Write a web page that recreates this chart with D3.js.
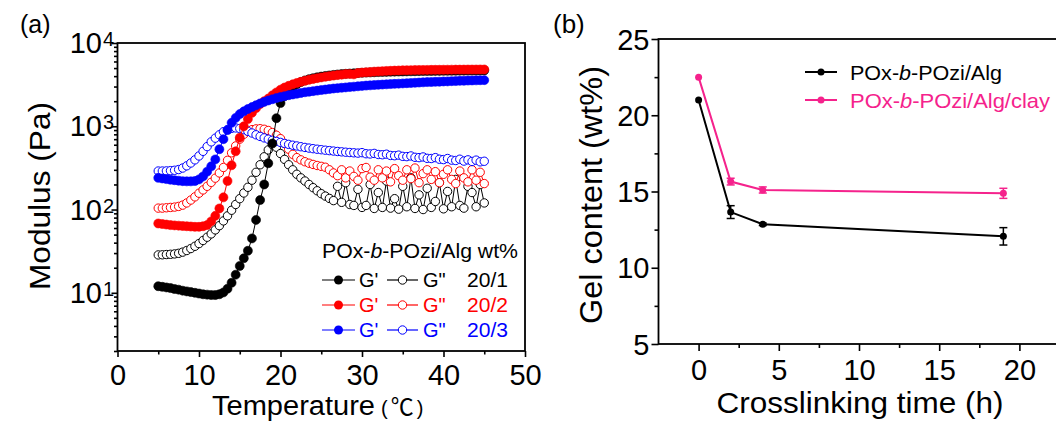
<!DOCTYPE html>
<html><head><meta charset="utf-8">
<script src="https://cdn.jsdelivr.net/npm/d3@7"></script>
<style>
body{margin:0;background:#fff}
svg{display:block}
text{font-family:"Liberation Sans",Arial,Helvetica,sans-serif;fill:#000}
</style>
</head><body>
<svg id="c" width="1056" height="427"></svg>
<script>
// ---------- Panel (a) data ----------
const temps = [5,5.5,6,6.5,7,7.5,8,8.5,9,9.5,10,10.5,11,11.5,12,12.5,13,13.5,14,14.5,15,15.5,16,16.5,17,17.5,18,18.5,19,19.5,20,20.5,21,21.5,22,22.5,23,23.5,24,24.5,25,25.5,26,26.5,27,27.5,28,28.5,29,29.5,30,30.5,31,31.5,32,32.5,33,33.5,34,34.5,35,35.5,36,36.5,37,37.5,38,38.5,39,39.5,40,40.5,41,41.5,42,42.5,43,43.5,44,44.5,45];

const gp201 = [12.0,11.8,11.6,11.4,11.1,10.9,10.6,10.4,10.2,10.0,
 9.8,9.6,9.5,9.4,9.4,9.6,10.1,11.2,13.2,16.5,
 21,26,32,45,75,130,200,360,620,1250,
 1900,2300,2650,2950,3200,3400,3550,3680,3780,3870,
 3950,4020,4080,4140,4190,4230,4270,4300,4330,4360,
 4390,4410,4430,4450,4470,4490,4500,4520,4530,4540,
 4550,4560,4570,4580,4590,4600,4605,4610,4620,4625,
 4630,4635,4640,4645,4650,4655,4660,4665,4670,4675,
 4680];
const gpp201 = [28.5,28.6,28.8,29,29.3,29.8,30.8,32.2,34,36.2,
 39,42.5,46.5,51,57,64,73,84,98,115,
 135,158,185,225,280,345,430,520,600,560,
 470,400,345,300,265,240,220,200,183,168,
 155,145,136,128,190,122,210,115,112,175,
 106,112,200,103,160,106,220,104,135,101,
 190,108,240,103,150,100,180,106,125,210,
 102,165,108,230,112,104,190,160,108,200,
 120];
const gp202 = [68,67,66,65,64.5,64,63.5,63,62.5,62,
 62,63,65,72,84,103,140,220,340,500,
 730,1000,1220,1450,1650,1850,2000,2150,2350,2550,
 2750,2920,3060,3190,3310,3420,3520,3610,3700,3780,
 3860,3930,4000,4060,4120,4170,4230,4250,4200,4360,
 4410,4450,4490,4530,4560,4590,4620,4640,4660,4680,
 4700,4710,4720,4730,4740,4750,4755,4760,4765,4770,
 4775,4780,4785,4790,4790,4795,4800,4800,4805,4810,
 4810];
const gpp202 = [104,104,105,106,107,109,113,120,130,142,
 157,172,190,212,238,275,320,390,480,580,
 700,800,870,910,930,935,920,890,840,780,
 710,620,530,460,420,395,375,360,348,338,
 330,322,300,275,255,300,240,290,250,225,
 310,320,245,225,300,240,290,215,310,255,
 225,300,235,315,210,270,300,230,285,210,
 265,300,230,205,290,240,215,300,225,280,
 205];
const gp203 = [240,236,232,228,225,222,219,218,218,220,
 230,250,285,330,400,530,700,900,1100,1260,
 1400,1510,1610,1700,1790,1880,1960,2040,2110,2180,
 2240,2300,2360,2410,2460,2510,2560,2600,2640,2680,
 2720,2760,2800,2840,2870,2900,2930,2960,2990,3020,
 3050,3080,3100,3130,3150,3170,3190,3210,3230,3250,
 3270,3290,3310,3330,3350,3370,3390,3400,3420,3430,
 3450,3460,3480,3490,3510,3520,3540,3550,3560,3570,
 3580];
const gpp203 = [290,290,291,293,296,302,315,335,362,395,
 440,500,570,650,720,790,860,910,945,955,
 940,910,870,830,790,755,725,700,678,658,
 640,622,606,592,580,568,557,547,538,530,
 523,516,510,504,498,493,488,484,480,476,
 482,468,465,472,458,455,462,446,443,450,
 435,432,440,424,420,428,412,410,420,402,
 398,410,392,388,402,382,395,378,392,374,
 380];

const ratioLabels = ["20/1","20/2","20/3"];
const aXMajor = [0,10,20,30,40,50];
const aXMinor = [5,15,25,35,45];
const aYMajor = [10,100,1000,10000];
const aYExp = ["1","2","3","4"];
const aYMinor = [2,3,4,5,6,7,8,9,20,30,40,50,60,70,80,90,200,300,400,500,600,700,800,900,2000,3000,4000,5000,6000,7000,8000,9000];

// ---------- Panel (b) data ----------
const timeB = [0,2,4,19];
const gelAlg = [21.0,13.65,12.85,12.06];
const errAlg = [0,0.42,0.08,0.57];
const gelClay = [22.5,15.65,15.1,14.88];
const errClay = [0,0.22,0.2,0.33];
const bXMajor = [0,5,10,15,20];
const bXMinor = [2.5,7.5,12.5,17.5,22.5];
const bYMajor = [5,10,15,20,25];
const bYMinor = [7.5,12.5,17.5,22.5];

// ---------- drawing ----------
const svg = d3.select("#c");
const FONT = '"Liberation Sans",Arial,Helvetica,sans-serif';
const colA = ["#000000","#ff0000","#0000ff"];
const pink = "#f5228c";

// Panel (a)
const xA = d3.scaleLinear().domain([0,50]).range([117.5,525]);
const yA = d3.scaleLog().domain([2,10000]).range([351,43]);

function styleAxis(g){
  g.select(".domain").remove();
  g.selectAll(".tick line").attr("stroke","#000").attr("stroke-width",1.6);
}

const axBa = svg.append("g").attr("transform","translate(0,351)")
  .call(d3.axisBottom(xA).tickValues(aXMajor).tickSize(6).tickSizeOuter(0).tickFormat(d=>String(d)));
styleAxis(axBa);
axBa.selectAll("text").attr("dy",null).attr("y",34).attr("font-size",29).attr("font-family",FONT).attr("fill","#000");
const axBaM = svg.append("g").attr("transform","translate(0,351)")
  .call(d3.axisBottom(xA).tickValues(aXMinor).tickSize(3.5).tickSizeOuter(0).tickFormat(""));
styleAxis(axBaM);

const axLa = svg.append("g").attr("transform","translate(117.5,0)")
  .call(d3.axisLeft(yA).tickValues(aYMajor).tickSize(6).tickSizeOuter(0).tickFormat(""));
styleAxis(axLa);
const axLaM = svg.append("g").attr("transform","translate(117.5,0)")
  .call(d3.axisLeft(yA).tickValues(aYMinor).tickSize(3.5).tickSizeOuter(0).tickFormat(""));
styleAxis(axLaM);

aYMajor.forEach((v,i)=>{
  const yy = yA(v);
  svg.append("text").attr("x",102).attr("y",yy+10).attr("text-anchor","end")
    .attr("font-size",29).text("10");
  svg.append("text").attr("x",103).attr("y",yy+3).attr("font-size",20).text(aYExp[i]);
});

svg.append("rect").attr("x",117.5).attr("y",43).attr("width",525-117.5).attr("height",351-43)
  .attr("fill","none").attr("stroke","#000").attr("stroke-width",1.8);

// series
const seriesA = [
  {vals:gpp201, c:colA[0], filled:false},
  {vals:gpp202, c:colA[1], filled:false},
  {vals:gpp203, c:colA[2], filled:false},
  {vals:gp201, c:colA[0], filled:true},
  {vals:gp202, c:colA[1], filled:true},
  {vals:gp203, c:colA[2], filled:true}
];
const lineA = d3.line().x(d=>xA(d.t)).y(d=>yA(d.v));
const gData = svg.append("g");
seriesA.forEach(s=>{
  const pts = temps.map((t,i)=>({t:t, v:s.vals[i]})).filter(d=>d.v!==undefined);
  const g = gData.append("g");
  g.append("path").datum(pts).attr("d",lineA).attr("fill","none").attr("stroke",s.c).attr("stroke-width",1);
  g.selectAll("circle").data(pts).join("circle")
    .attr("cx",d=>xA(d.t)).attr("cy",d=>yA(d.v))
    .attr("r", s.filled?4.5:4.2)
    .attr("fill", s.filled? s.c : "#fff")
    .attr("stroke", s.c).attr("stroke-width", s.filled?0.6:1);
});

// axis titles (a)
svg.append("text").attr("transform","translate(50,196) rotate(-90)").attr("text-anchor","middle")
  .attr("font-size",29).attr("textLength",188).attr("lengthAdjust","spacingAndGlyphs").text("Modulus (Pa)");
svg.append("text").attr("x",212).attr("y",415).attr("font-size",27)
  .attr("textLength",163).attr("lengthAdjust","spacingAndGlyphs").text("Temperature");
const tu = svg.append("text").attr("x",381).attr("y",415).attr("font-size",20);
tu.append("tspan").text("(");
tu.append("tspan").attr("dx",3).attr("font-family",'"Noto Sans CJK SC","Noto Sans",sans-serif').attr("font-size",23).text("℃");
tu.append("tspan").attr("dx",3).text(")");

svg.append("text").attr("x",20).attr("y",33).attr("font-size",25).text("(a)");

// legend (a)
const lt = svg.append("text").attr("x",322).attr("y",258).attr("font-size",20)
  .attr("textLength",196).attr("lengthAdjust","spacingAndGlyphs");
lt.append("tspan").text("POx-");
lt.append("tspan").attr("font-style","italic").text("b");
lt.append("tspan").text("-POzi/Alg wt%");
const rowY = [280,305,330];
ratioLabels.forEach((lab,i)=>{
  const y = rowY[i], c = colA[i];
  const g = svg.append("g");
  g.append("line").attr("x1",322).attr("x2",355).attr("y1",y).attr("y2",y).attr("stroke",c).attr("stroke-width",1.2);
  g.append("circle").attr("cx",338.5).attr("cy",y).attr("r",4.5).attr("fill",c);
  g.append("text").attr("x",359).attr("y",y+7).attr("font-size",20).style("fill",c).text("G'");
  g.append("line").attr("x1",387).attr("x2",418).attr("y1",y).attr("y2",y).attr("stroke",c).attr("stroke-width",1.2);
  g.append("circle").attr("cx",402.5).attr("cy",y).attr("r",4.2).attr("fill","#fff").attr("stroke",c).attr("stroke-width",1);
  g.append("text").attr("x",423).attr("y",y+7).attr("font-size",20).style("fill",c).text('G"');
  g.append("text").attr("x",467).attr("y",y+7).attr("font-size",20).style("fill",c)
    .attr("textLength",41).attr("lengthAdjust","spacingAndGlyphs").text(lab);
});

// Panel (b)
const xB = d3.scaleLinear().domain([-2.5,22.5]).range([658.5,1059.5]);
const yB = d3.scaleLinear().domain([5,25]).range([344,39]);

const axBb = svg.append("g").attr("transform","translate(0,344)")
  .call(d3.axisBottom(xB).tickValues(bXMajor).tickSize(7).tickSizeOuter(0).tickFormat(d=>String(d)));
styleAxis(axBb);
axBb.selectAll("text").attr("dy",null).attr("y",36).attr("font-size",29).attr("font-family",FONT).attr("fill","#000");
const axBbM = svg.append("g").attr("transform","translate(0,344)")
  .call(d3.axisBottom(xB).tickValues(bXMinor).tickSize(4).tickSizeOuter(0).tickFormat(""));
styleAxis(axBbM);
const axLb = svg.append("g").attr("transform","translate(658.5,0)")
  .call(d3.axisLeft(yB).tickValues(bYMajor).tickSize(7).tickSizeOuter(0).tickFormat(d=>String(d)));
styleAxis(axLb);
axLb.selectAll("text").attr("dy",null).attr("y",10).attr("x",-9).attr("font-size",29).attr("font-family",FONT).attr("fill","#000");
const axLbM = svg.append("g").attr("transform","translate(658.5,0)")
  .call(d3.axisLeft(yB).tickValues(bYMinor).tickSize(4).tickSizeOuter(0).tickFormat(""));
styleAxis(axLbM);

svg.append("rect").attr("x",658.5).attr("y",39).attr("width",1059.5-658.5).attr("height",344-39)
  .attr("fill","none").attr("stroke","#000").attr("stroke-width",1.8);

const seriesB = [
  {vals:gelAlg, err:errAlg, c:"#000"},
  {vals:gelClay, err:errClay, c:pink}
];
const lineB = d3.line().x(d=>xB(d.t)).y(d=>yB(d.v));
seriesB.forEach(s=>{
  const pts = timeB.map((t,i)=>({t:t, v:s.vals[i], e:s.err[i]}));
  const g = svg.append("g");
  g.append("path").datum(pts).attr("d",lineB).attr("fill","none").attr("stroke",s.c).attr("stroke-width",2);
  pts.filter(d=>d.e>0).forEach(d=>{
    const x = xB(d.t), y1 = yB(d.v+d.e), y2 = yB(d.v-d.e);
    g.append("line").attr("x1",x).attr("x2",x).attr("y1",y1).attr("y2",y2).attr("stroke",s.c).attr("stroke-width",1.5);
    g.append("line").attr("x1",x-4).attr("x2",x+4).attr("y1",y1).attr("y2",y1).attr("stroke",s.c).attr("stroke-width",1.5);
    g.append("line").attr("x1",x-4).attr("x2",x+4).attr("y1",y2).attr("y2",y2).attr("stroke",s.c).attr("stroke-width",1.5);
  });
  g.selectAll("circle").data(pts).join("circle")
    .attr("cx",d=>xB(d.t)).attr("cy",d=>yB(d.v)).attr("r",3.5).attr("fill",s.c);
});

svg.append("text").attr("transform","translate(602,195) rotate(-90)").attr("text-anchor","middle")
  .attr("font-size",31).attr("textLength",258).attr("lengthAdjust","spacingAndGlyphs").text("Gel content (wt%)");
svg.append("text").attr("x",860).attr("y",413).attr("text-anchor","middle")
  .attr("font-size",30).attr("textLength",287).attr("lengthAdjust","spacingAndGlyphs").text("Crosslinking time (h)");
svg.append("text").attr("x",553).attr("y",33).attr("font-size",26).text("(b)");

// legend (b)
const legB = [{c:"#000", y:72, w:152, parts:["POx-","b","-POzi/Alg"]},
              {c:pink, y:100, w:200, parts:["POx-","b","-POzi/Alg/clay"]}];
legB.forEach(l=>{
  svg.append("line").attr("x1",805).attr("x2",837).attr("y1",l.y).attr("y2",l.y).attr("stroke",l.c).attr("stroke-width",2);
  svg.append("circle").attr("cx",821).attr("cy",l.y).attr("r",3.5).attr("fill",l.c);
  const t = svg.append("text").attr("x",850).attr("y",l.y+8).attr("font-size",21).style("fill",l.c)
    .attr("textLength",l.w).attr("lengthAdjust","spacingAndGlyphs");
  t.append("tspan").text(l.parts[0]);
  t.append("tspan").attr("font-style","italic").text(l.parts[1]);
  t.append("tspan").text(l.parts[2]);
});
</script>
</body></html>
